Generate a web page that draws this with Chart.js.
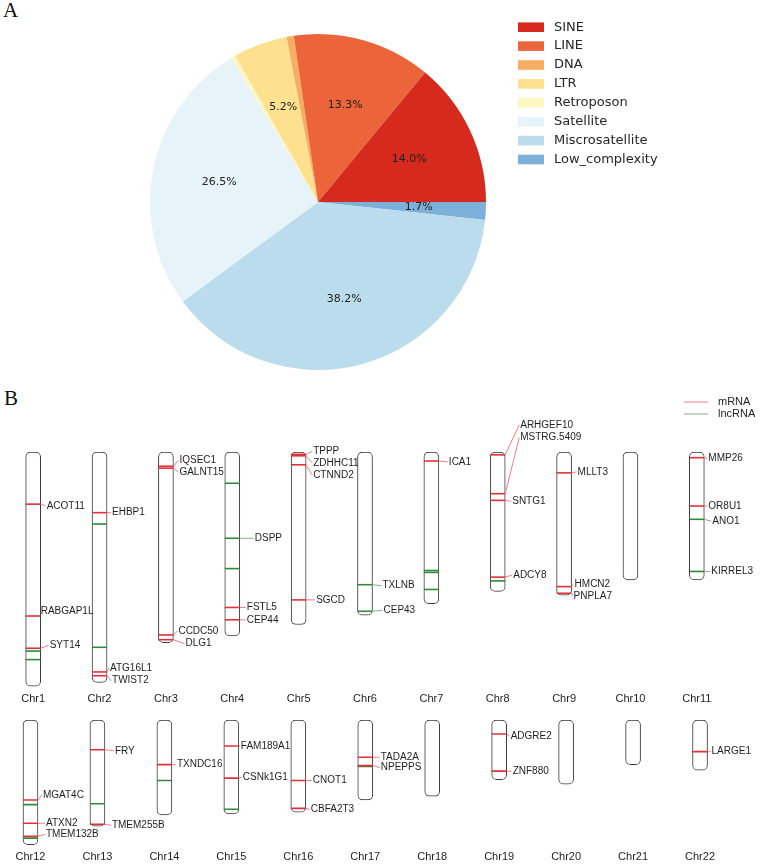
<!DOCTYPE html>
<html><head><meta charset="utf-8">
<script src="https://cdn.jsdelivr.net/npm/chart.js@4.4.1/dist/chart.umd.min.js"></script>
<style>
html,body{margin:0;padding:0;background:#fff;}
body{width:760px;height:867px;position:relative;overflow:hidden;}
.panel{position:absolute;font-family:"Liberation Serif","Times New Roman",serif;font-size:21px;color:#111;line-height:1;}
canvas{position:absolute;}
</style></head><body>
<div class="panel" style="left:3px;top:0px">A</div>
<div class="panel" style="left:4px;top:388px">B</div>
<canvas id="pie" width="760" height="375" style="left:0;top:0"></canvas>
<canvas id="row1" width="760" height="332" style="left:0;top:380px"></canvas>
<canvas id="row2" width="763" height="156" style="left:-3px;top:711px"></canvas>
<script>
// ---------- Panel A data ----------
const pieLabels = ['SINE','LINE','DNA','LTR','Retroposon','Satellite','Miscrosatellite','Low_complexity'];
const pieValues = [14.0, 13.3, 0.7, 5.2, 0.4, 26.5, 38.2, 1.7];
const pieColors = ['#d52a1d','#eb643a','#f8ae62','#fde18f','#fef7c4','#e6f4fa','#badcec','#7cb0d8'];

// ---------- Panel B data ----------
const row1Chr = ['Chr1','Chr2','Chr3','Chr4','Chr5','Chr6','Chr7','Chr8','Chr9','Chr10','Chr11'];
const row1Len = [247,243,201,194,182,172,160,147,151,135,135];
const row2Chr = ['Chr12','Chr13','Chr14','Chr15','Chr16','Chr17','Chr18','Chr19','Chr20','Chr21','Chr22'];
const row2Len = [134,114,102,101,99,86,82,64,69,48,54];

const geneChr = ['Chr1','Chr1','Chr1','Chr1','Chr1',
  'Chr2','Chr2','Chr2','Chr2','Chr2',
  'Chr3','Chr3','Chr3','Chr3',
  'Chr4','Chr4','Chr4','Chr4','Chr4',
  'Chr5','Chr5','Chr5','Chr5',
  'Chr6','Chr6',
  'Chr7','Chr7','Chr7','Chr7',
  'Chr8','Chr8','Chr8','Chr8','Chr8',
  'Chr9','Chr9','Chr9',
  'Chr11','Chr11','Chr11','Chr11',
  'Chr12','Chr12','Chr12','Chr12','Chr12',
  'Chr13','Chr13','Chr13',
  'Chr14','Chr14',
  'Chr15','Chr15','Chr15',
  'Chr16','Chr16',
  'Chr17','Chr17','Chr17',
  'Chr19','Chr19',
  'Chr22'];
const genePos = [55,173,207,210,219,
  64,76,206,232,236,
  15,17,193,198,
  33,91,123,164,177,
  2.5,4,13.5,156,
  140,168,
  9.5,125,127,145,
  3,44,51,132,136,
  22,142,149,
  6,57,71,126,
  86,91,111,125,127,
  32,90,112,
  48,65,
  28,62.5,96,
  65,95,
  40,49,50,
  15,55,
  34];
const geneType = ['m','m','m','l','l',
  'm','l','l','m','m',
  'm','m','m','m',
  'l','l','l','m','m',
  'm','m','m','m',
  'l','l',
  'm','l','l','l',
  'm','m','m','m','l',
  'm','m','m',
  'm','m','l','l',
  'm','l','m','m','l',
  'm','l','m',
  'm','l',
  'm','m','l',
  'm','m',
  'm','m','l',
  'm','m',
  'm'];
const geneName = ['ACOT11','RABGAP1L','SYT14','','',
  'EHBP1','','','ATG16L1','TWIST2',
  'IQSEC1','GALNT15','CCDC50','DLG1',
  '','DSPP','','FSTL5','CEP44',
  'TPPP','ZDHHC11','CTNND2','SGCD',
  'TXLNB','CEP43',
  'ICA1','','','',
  'ARHGEF10','MSTRG.5409','SNTG1','ADCY8','',
  'MLLT3','HMCN2','PNPLA7',
  'MMP26','OR8U1','ANO1','KIRREL3',
  'MGAT4C','','ATXN2','TMEM132B','',
  'FRY','','TMEM255B',
  'TXNDC16','',
  'FAM189A1','CSNk1G1','',
  'CNOT1','CBFA2T3',
  'TADA2A','NPEPPS','',
  'ADGRE2','ZNF880',
  'LARGE1'];

// ---------- layout / style (not data) ----------
const labelShift = { // [dx from chromosome edge, dy from mark] in px
  ACOT11:[6,2], RABGAP1L:[0,-5], SYT14:[9,-3], EHBP1:[5,0], ATG16L1:[3,-4], TWIST2:[5,5],
  IQSEC1:[6,-6], GALNT15:[6,4], CCDC50:[5,-4], DLG1:[12,4], DSPP:[15,0], FSTL5:[7,0], CEP44:[7,0],
  TPPP:[7,-3], ZDHHC11:[7,7], CTNND2:[7,10], SGCD:[10,0], TXLNB:[10,1], CEP43:[11,-1], ICA1:[10,1],
  ARHGEF10:[15,-30], 'MSTRG.5409':[15,-56], SNTG1:[7,1], ADCY8:[8,-2], MLLT3:[6,-1], HMCN2:[3,-2],
  PNPLA7:[2,3], MMP26:[4,1], OR8U1:[4,0], ANO1:[8,2], KIRREL3:[7,0],
  MGAT4C:[5,-5], ATXN2:[8,0], TMEM132B:[8,-2], FRY:[10,1], TMEM255B:[7,1], TXNDC16:[5,0],
  FAM189A1:[2,0], CSNk1G1:[4,-1], CNOT1:[7,0], CBFA2T3:[5,1], TADA2A:[8,0], NPEPPS:[8,2],
  ADGRE2:[4,2], ZNF880:[6,0], LARGE1:[4,0]
};
const RED = '#e2313b', GREEN = '#2f8a3c';
const RED_LINK = '#ee8086', GREEN_LINK = '#86b08b';

// ---------- Panel A ----------
const pieLabelPlugin = {
  id: 'pieLabels',
  afterDatasetsDraw(chart) {
    const ctx = chart.ctx, ds = chart.data.datasets[0];
    ctx.save();
    ctx.font = '11px "DejaVu Sans", sans-serif';
    ctx.fillStyle = '#222';
    ctx.textAlign = 'center'; ctx.textBaseline = 'middle';
    chart.getDatasetMeta(0).data.forEach((arc, i) => {
      const v = ds.data[i];
      if (v < 1) return;
      const p = arc.getProps(['x','y','startAngle','endAngle','outerRadius'], true);
      const mid = (p.startAngle + p.endAngle) / 2;
      const r = p.outerRadius * 0.6;
      ctx.fillText(v.toFixed(1) + '%', p.x + Math.cos(mid) * r, p.y + Math.sin(mid) * r);
    });
    ctx.restore();
  }
};
const pieLegendPlugin = {
  id: 'pieLegend',
  afterDraw(chart) {
    const ctx = chart.ctx, ds = chart.data.datasets[0];
    const n = chart.data.labels.length;
    ctx.save();
    ctx.font = '13px "DejaVu Sans", sans-serif';
    ctx.textBaseline = 'middle'; ctx.textAlign = 'left';
    for (let k = 0; k < n; k++) {
      const i = n - 1 - k; // legend in original order
      const yc = 27.2 + k * 18.9;
      ctx.fillStyle = ds.backgroundColor[i];
      ctx.fillRect(518, yc - 4.8, 26, 9.6);
      ctx.fillStyle = '#262626';
      ctx.fillText(chart.data.labels[i], 554, yc);
    }
    ctx.restore();
  }
};
new Chart(document.getElementById('pie'), {
  type: 'pie',
  data: {
    labels: pieLabels.slice().reverse(),
    datasets: [{
      data: pieValues.slice().reverse(),
      backgroundColor: pieColors.slice().reverse(),
      borderWidth: 0, hoverBorderWidth: 0, hoverOffset: 0, offset: 0
    }]
  },
  options: {
    responsive: false, animation: false, events: [],
    rotation: 90,
    layout: { padding: { left: 150, top: 34, right: 274, bottom: 5 } },
    plugins: { legend: { display: false }, tooltip: { enabled: false } }
  },
  plugins: [pieLabelPlugin, pieLegendPlugin]
});

// ---------- Panel B ----------
function geneLabelPlugin(showLegend) {
  return {
    id: 'geneLabels',
    afterDatasetsDraw(chart) {
      const ctx = chart.ctx;
      const ys = chart.scales.y;
      const bars = chart.getDatasetMeta(0).data;
      const labels = chart.data.labels;
      ctx.save();
      ctx.font = '10px "Liberation Sans", Arial, sans-serif';
      ctx.textBaseline = 'middle'; ctx.textAlign = 'left';
      geneName.forEach((name, g) => {
        if (!name) return;
        const idx = labels.indexOf(geneChr[g]);
        if (idx < 0) return;
        const bar = bars[idx];
        const right = bar.x + bar.width / 2;
        const my = ys.getPixelForValue(genePos[g]);
        const [dx, dy] = labelShift[name] || [6, 0];
        ctx.strokeStyle = geneType[g] === 'm' ? RED_LINK : GREEN_LINK;
        ctx.lineWidth = 1;
        if (dx > 1) {
          ctx.beginPath();
          ctx.moveTo(right, my);
          ctx.lineTo(right + dx - 1, my + dy);
          ctx.stroke();
        }
        ctx.fillStyle = '#1e1e1e';
        ctx.fillText(name, right + dx, my + dy);
      });
      if (showLegend) {
        const ca = chart.chartArea;
        const items = [[chart.data.datasets[1], ca.top - 50], [chart.data.datasets[2], ca.top - 38]];
        ctx.font = '11px "Liberation Sans", Arial, sans-serif';
        items.forEach(([d, y]) => {
          ctx.strokeStyle = d.pointBorderColor === RED ? RED_LINK : GREEN_LINK;
          ctx.lineWidth = 1;
          ctx.beginPath(); ctx.moveTo(684, y); ctx.lineTo(708, y); ctx.stroke();
          ctx.fillStyle = '#1e1e1e';
          ctx.fillText(d.label, 718, y);
        });
      }
      ctx.restore();
    }
  };
}

function makeRow(id, chrs, lens, yMax, pad, showLegend) {
  const mData = [], lData = [];
  geneChr.forEach((c, g) => {
    if (chrs.indexOf(c) < 0) return;
    (geneType[g] === 'm' ? mData : lData).push({ x: c, y: genePos[g] });
  });
  const markDs = (label, data, color) => ({
    type: 'line', label, data, showLine: false, order: 1,
    pointStyle: 'line', pointRadius: 7.5, pointHoverRadius: 7.5,
    pointBorderWidth: 1.6, pointHoverBorderWidth: 1.6,
    pointBorderColor: color, borderColor: color, backgroundColor: color
  });
  new Chart(document.getElementById(id), {
    type: 'bar',
    data: {
      labels: chrs,
      datasets: [
        {
          label: 'chromosome', data: lens.map(v => [0, v]), order: 3,
          backgroundColor: '#ffffff', borderColor: '#3a3a3a', borderWidth: 1,
          borderSkipped: false, borderRadius: 5, barThickness: 15
        },
        markDs('mRNA', mData, RED),
        markDs('lncRNA', lData, GREEN)
      ]
    },
    options: {
      responsive: false, animation: false, events: [],
      layout: { padding: pad, autoPadding: false },
      scales: {
        x: {
          grid: { display: false, drawTicks: false }, border: { display: false },
          ticks: { color: '#1e1e1e', padding: 3, font: { family: '"Liberation Sans", Arial, sans-serif', size: 11 } }
        },
        y: { display: false, reverse: true, min: 0, max: yMax }
      },
      plugins: { legend: { display: false }, tooltip: { enabled: false } }
    },
    plugins: [geneLabelPlugin(showLegend)]
  });
}
makeRow('row1', row1Chr, row1Len, 250, { top: 72, bottom: 3.8, left: 0, right: 30 }, true);
makeRow('row2', row2Chr, row2Len, 136.5, { top: 9, bottom: 0.8, left: 0, right: 26.5 }, false);
</script>
</body></html>
